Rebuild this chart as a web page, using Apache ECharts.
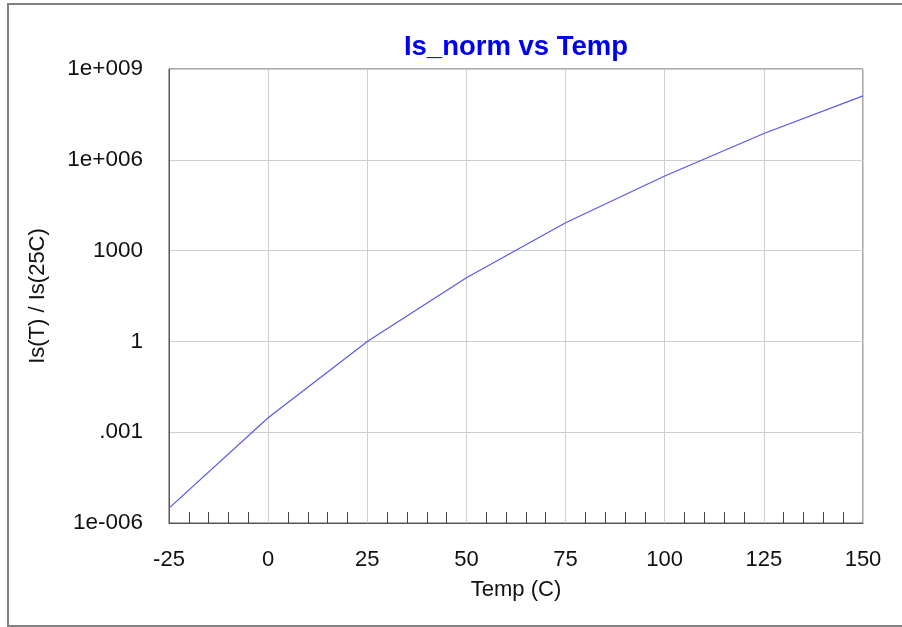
<!DOCTYPE html>
<html>
<head>
<meta charset="utf-8">
<title>Is_norm vs Temp</title>
<script src="https://cdn.jsdelivr.net/npm/echarts@6/dist/echarts.min.js"></script>
<style>
  html, body { margin: 0; padding: 0; background: #fff; }
  #chart { width: 902px; height: 627px; }
</style>
</head>
<body>
<div id="chart"></div>
<script>
// temperature points (C) and normalised saturation current Is(T)/Is(25C)
var temps = [-25, 0, 25, 50, 75, 100, 125, 150];
var isNorm = [3.1e-6, 3.0e-3, 1, 126, 8300, 2.9e5, 7.4e6, 1.3e8];

// y axis tick values and the way they are printed
var yTickValues = [1e-6, 1e-3, 1, 1e3, 1e6, 1e9];
var yTickLabels = ['1e-006', '.001', '1', '1000', '1e+006', '1e+009'];

var font = 'Liberation Sans, Arial, sans-serif';

function yLabel(v) {
    var best = 0;
    for (var i = 0; i < yTickValues.length; i++) {
        if (Math.abs(Math.log10(v) - Math.log10(yTickValues[i])) <
            Math.abs(Math.log10(v) - Math.log10(yTickValues[best]))) best = i;
    }
    return yTickLabels[best];
}

var chart = echarts.init(document.getElementById('chart'));
chart.setOption({
    animation: false,
    backgroundColor: '#fff',
    title: {
        text: 'Is_norm vs Temp',
        left: 511,
        textAlign: 'center',
        top: 28,
        textStyle: { color: '#0000f0', fontSize: 27.5, fontWeight: 'bold', fontFamily: font }
    },
    graphic: [{
        type: 'rect',
        shape: { x: 8, y: 4, width: 900, height: 622 },
        style: { fill: 'none', stroke: '#808080', lineWidth: 2 },
        silent: true
    }],
    grid: {
        left: 169, top: 69, right: 39, bottom: 104,
        show: true, borderColor: '#555', borderWidth: 1
    },
    xAxis: {
        type: 'value',
        min: -25, max: 150, interval: 25,
        name: 'Temp (C)',
        nameLocation: 'middle',
        nameGap: 56,
        nameTextStyle: { color: '#111', fontSize: 22, fontFamily: font },
        axisLine: { lineStyle: { color: '#555', width: 1 } },
        axisTick: { show: false, inside: true },
        minorTick: { show: true, splitNumber: 5, length: 11, lineStyle: { color: '#444', width: 1 } },
        axisLabel: { margin: 26, color: '#111', fontSize: 22, fontFamily: font },
        splitLine: { show: true, lineStyle: { color: '#cfcfcf', width: 1 } }
    },
    yAxis: {
        type: 'log',
        logBase: 1000,
        min: 1e-6, max: 1e9,
        splitNumber: 5,
        name: 'Is(T) / Is(25C)',
        nameLocation: 'middle',
        nameGap: 120,
        nameTextStyle: { color: '#111', fontSize: 22, fontFamily: font },
        axisLine: { show: true, onZero: false, lineStyle: { color: '#555', width: 1 } },
        axisTick: { show: false },
        axisLabel: { margin: 26, padding: [5, 0, 0, 0], color: '#111', fontSize: 22.5, fontFamily: font, formatter: yLabel },
        splitLine: { show: true, lineStyle: { color: '#cfcfcf', width: 1 } }
    },
    series: [{
        type: 'line',
        data: temps.map(function (t, i) { return [t, isNorm[i]]; }),
        showSymbol: false,
        lineStyle: { color: '#5858ee', width: 1.2 },
        silent: true
    }]
});
</script>
</body>
</html>
